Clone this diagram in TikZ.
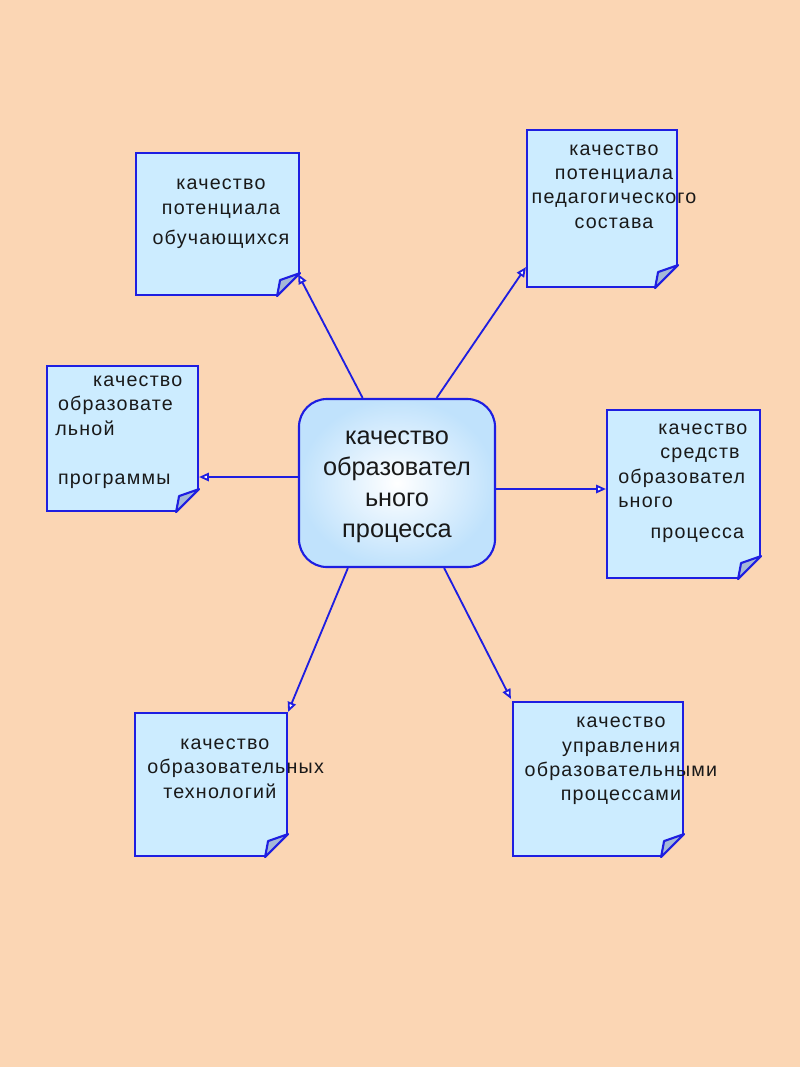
\documentclass[tikz,border=0pt]{standalone}
\usepackage{fontspec}
\setmainfont{Liberation Sans}
\newfontfamily\notefont[LetterSpace=6]{Liberation Sans}
\usetikzlibrary{arrows.meta,calc}
\definecolor{paper}{RGB}{251,214,180}
\definecolor{notefill}{RGB}{204,236,255}
\definecolor{noteline}{RGB}{30,30,225}
\definecolor{foldfill}{RGB}{165,185,215}
\definecolor{procedge}{RGB}{192,226,252}

\begin{document}
\begin{tikzpicture}[x=0.025cm,y=-0.025cm,
  note/.style={draw=noteline,line width=1.5pt,fill=notefill,inner sep=0pt},
  notetext/.style={font=\notefont\fontsize{14pt}{17.4pt}\selectfont,text=black!90,inner sep=0pt},
  link/.style={draw=noteline,line width=1.3pt,-{Triangle[length=7pt,width=6pt,fill=white]}}]
\fill[paper] (0,0) rectangle (800,1067);
% central process box
\node[draw=noteline,line width=1.5pt,rounded corners=0.7cm,inner color=white,outer color=procedge,
  minimum width=4.9cm,minimum height=4.2cm] (proc) at (397,483) {};
\node[align=center,text=black!90,inner sep=0pt,font=\fontsize{18pt}{22pt}\selectfont] (proc-t) at (397,487) {качество\\образовател\\ьного\\процесса};
% the six notes
\node[note,minimum width=4.075cm,minimum height=3.55cm] (pupils) at (217.5,224) {};
\node[note,minimum width=3.75cm,minimum height=3.925cm] (staff) at (602,208.5) {};
\node[note,minimum width=3.775cm,minimum height=3.625cm] (progr) at (122.5,438.5) {};
\node[note,minimum width=3.825cm,minimum height=4.2cm] (means) at (683.5,494) {};
\node[note,minimum width=3.8cm,minimum height=3.575cm] (tech) at (211,784.5) {};
\node[note,minimum width=4.25cm,minimum height=3.85cm] (manage) at (598,779) {};
% folded corners
\foreach \n in {pupils,staff,progr,means,tech,manage}{
  \fill[paper] ($(\n.south east)+(0,-23)$) -- ($(\n.south east)+(2,2)$) -- ($(\n.south east)+(-23,0)$) -- cycle;
  \filldraw[draw=noteline,line width=1.5pt,fill=foldfill,line join=round] ($(\n.south east)+(0,-23)$) -- ($(\n.south east)+(-23,0)$) -- ($(\n.south east)+(-20,-16)$) -- cycle;
}
% texts
\node[notetext,align=center] (pupils-t) at (221,214) {качество\\потенциала\\[4pt]обучающихся};
\node[notetext,align=center] (staff-t) at (614,186.5) {качество\\потенциала\\педагогического\\состава};
\node[notetext,align=left,anchor=west] (progr-t) at (55,432) {\hspace*{27pt}качество\\\hspace*{2pt}образовате\\льной\\[17.4pt]\hspace*{2pt}программы};
\node[notetext,align=left,anchor=west] (means-t) at (618,483) {\hspace*{28.5pt}качество\\\hspace*{30pt}средств\\образовател\\ьного\\[4pt]\hspace*{23pt}процесса};
\node[notetext,align=left,anchor=west] (tech-t) at (147,768.5) {\hspace*{23.5pt}качество\\образовательных\\\hspace*{11.4pt}технологий};
\node[notetext,align=center] (manage-t) at (621,761) {качество\\управления\\образовательными\\процессами};
% links
\draw[link] (proc.112) -- ($(pupils.south east)+(-2,-22)$);
\draw[link] (proc.65) -- ($(staff.south west)+(0,-21)$);
\draw[link] ($(proc.west)+(0,-6)$) -- ($(progr.east)+(0,38.5)$);
\draw[link] ($(proc.east)+(0,6)$) -- ($(means.west)+(0,-5)$);
\draw[link] (proc.240) -- (tech.north east);
\draw[link] (proc.299) -- ($(manage.north west)+(-1,-2)$);
\end{tikzpicture}
\end{document}
